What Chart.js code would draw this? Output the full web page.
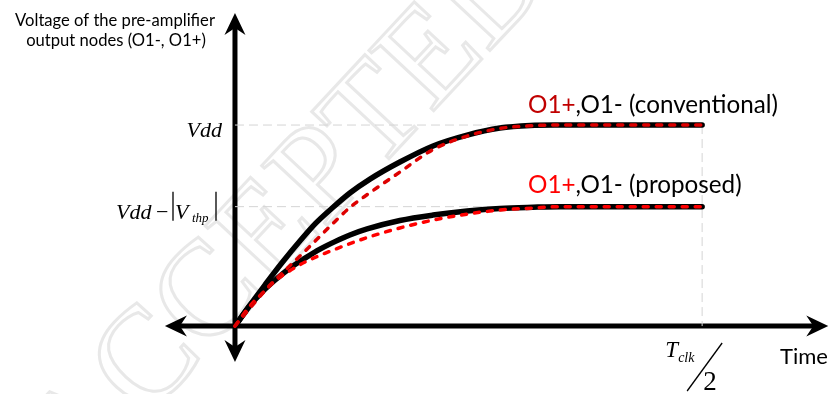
<!DOCTYPE html>
<html>
<head>
<meta charset="utf-8">
<script src="https://cdn.jsdelivr.net/npm/chart.js@4.4.0/dist/chart.umd.min.js"></script>
<style>
  html, body { margin: 0; padding: 0; background: #fff; }
  #wrap { position: relative; width: 832px; height: 394px; }
</style>
</head>
<body>
<div id="wrap"><canvas id="chart"></canvas></div>
<script>
/* ---------- data : time in units of Tclk/2, voltage in units of Vdd ---------- */
const VDD      = 1.0;
const VDD_VTHP = 0.594;          // Vdd - |Vthp|
const T_HALF   = 1.0;            // Tclk / 2

// conventional, solid black
const convSolidX = [0, 0.032, 0.064, 0.101, 0.139, 0.173, 0.208, 0.246, 0.289, 0.353, 0.424, 0.497, 0.567, 0.632, 0.685, 1.0];
const convSolidY = [0, 0.104, 0.204, 0.316, 0.423, 0.512, 0.587, 0.662, 0.731, 0.816, 0.896, 0.950, 0.985, 0.998, 1.0, 1.0];
// conventional, red dashed
const convDashX  = [0, 0.043, 0.075, 0.118, 0.161, 0.203, 0.246, 0.285, 0.353, 0.424, 0.497, 0.567, 0.632, 0.685, 1.0];
const convDashY  = [0, 0.119, 0.204, 0.301, 0.398, 0.495, 0.590, 0.657, 0.766, 0.878, 0.945, 0.983, 0.996, 1.0, 1.0];
// proposed, solid black
const propSolidX = [0, 0.032, 0.058, 0.086, 0.118, 0.150, 0.182, 0.214, 0.246, 0.283, 0.353, 0.424, 0.497, 0.567, 0.638, 0.696, 1.0];
const propSolidY = [0, 0.102, 0.169, 0.229, 0.289, 0.338, 0.383, 0.420, 0.453, 0.483, 0.525, 0.552, 0.572, 0.585, 0.591, 0.594, 0.594];
// proposed, red dashed
const propDashX  = [0, 0.032, 0.058, 0.086, 0.118, 0.154, 0.210, 0.283, 0.353, 0.424, 0.497, 0.567, 0.638, 0.696, 1.0];
const propDashY  = [0, 0.100, 0.162, 0.224, 0.276, 0.323, 0.378, 0.440, 0.488, 0.527, 0.557, 0.577, 0.587, 0.594, 0.594];

// axis extents (arrow tips)
const xAxisEnds = [-0.15, 1.27];
const yAxisEnds = [-0.179, 1.557];

const pts = (xs, ys) => xs.map((x, i) => ({ x, y: ys[i] }));

/* ---------- helpers ---------- */
function arrowHead(ctx, tx, ty, dx, dy) {
  const len = 22, half = 10.5, notch = 7;
  const px = -dy, py = dx;
  ctx.beginPath();
  ctx.moveTo(tx, ty);
  ctx.lineTo(tx - dx * len + px * half, ty - dy * len + py * half);
  ctx.lineTo(tx - dx * (len - notch), ty - dy * (len - notch));
  ctx.lineTo(tx - dx * len - px * half, ty - dy * len - py * half);
  ctx.closePath();
  ctx.fill();
}

function fitSize(ctx, text, family, width) {
  ctx.font = `20px ${family}`;
  return 20 * width / ctx.measureText(text).width;
}

function drawParts(ctx, parts, x, y, size, family) {
  ctx.font = `${size}px ${family}`;
  parts.forEach(([t, c]) => {
    ctx.fillStyle = c;
    ctx.fillText(t, x, y);
    x += ctx.measureText(t).width;
  });
}

const SANS  = 'Lato, "Open Sans", sans-serif';
const SERIF = '"Liberation Serif", "DejaVu Serif", serif';

/* ---------- plugins ---------- */
const watermark = {
  id: 'watermark',
  beforeDatasetsDraw(chart) {
    const ctx = chart.ctx;
    ctx.save();
    ctx.translate(78, 492);
    ctx.rotate(-0.82);
    ctx.font = `135px ${SERIF}`;
    ctx.strokeStyle = '#e8e8e8';
    ctx.lineWidth = 3;
    ctx.strokeText('ACCEPTED MANUSCRIPT', 0, 0);
    ctx.restore();
  }
};

const axesPlugin = {
  id: 'axes',
  beforeDatasetsDraw(chart) {
    const ctx = chart.ctx, xs = chart.scales.x, ys = chart.scales.y;
    const x0 = xs.getPixelForValue(0), y0 = ys.getPixelForValue(0);
    const xl = xs.getPixelForValue(xAxisEnds[0]), xr = xs.getPixelForValue(xAxisEnds[1]);
    const yb = ys.getPixelForValue(yAxisEnds[0]), yt = ys.getPixelForValue(yAxisEnds[1]);
    ctx.save();
    ctx.strokeStyle = '#000';
    ctx.fillStyle = '#000';
    ctx.lineWidth = 5;
    ctx.beginPath();
    ctx.moveTo(xl + 14, y0); ctx.lineTo(xr - 14, y0);
    ctx.moveTo(x0, yb - 14); ctx.lineTo(x0, yt + 14);
    ctx.stroke();
    arrowHead(ctx, xr, y0, 1, 0);
    arrowHead(ctx, xl, y0, -1, 0);
    arrowHead(ctx, x0, yt, 0, -1);
    arrowHead(ctx, x0, yb, 0, 1);
    ctx.restore();
  }
};

const labels = {
  id: 'labels',
  afterDraw(chart) {
    const ctx = chart.ctx, xs = chart.scales.x, ys = chart.scales.y;
    ctx.save();
    ctx.textBaseline = 'alphabetic';
    ctx.fillStyle = '#000';

    // y-axis title
    const t1 = 'Voltage of the pre-amplifier', t2 = 'output nodes (O1-, O1+)';
    const s1 = fitSize(ctx, t1, SANS, 200);
    ctx.font = `${s1}px ${SANS}`;
    ctx.textAlign = 'center';
    ctx.fillText(t1, 115, 26);
    ctx.fillText(t2, 116, 46);

    // Time
    ctx.textAlign = 'left';
    const st = fitSize(ctx, 'Time', SANS, 48);
    ctx.font = `${st}px ${SANS}`;
    ctx.fillText('Time', 780, 364);

    // curve labels
    const lc = [['O1+', '#c00000'], [',O1- (conventional)', '#000']];
    const sl = fitSize(ctx, 'O1+,O1- (conventional)', SANS, 250);
    drawParts(ctx, lc, 528, ys.getPixelForValue(VDD) - 12, sl, SANS);
    const lp = [['O1+', '#ff0000'], [',O1- (proposed)', '#000']];
    drawParts(ctx, lp, 528, ys.getPixelForValue(VDD_VTHP) - 14, sl, SANS);

    // Vdd tick label
    const x0 = xs.getPixelForValue(0);
    ctx.fillStyle = '#000';
    ctx.font = `italic 22px ${SERIF}`;
    ctx.textAlign = 'right';
    ctx.fillText('Vdd', x0 - 13, ys.getPixelForValue(VDD) + 12);

    // Vdd - |Vthp|
    const yb = ys.getPixelForValue(VDD_VTHP) + 12;
    ctx.textAlign = 'left';
    ctx.font = `italic 22px ${SERIF}`;
    ctx.fillText('Vdd', 116, yb);
    ctx.font = `22px ${SERIF}`;
    ctx.fillText('\u2212', 156, yb);
    ctx.font = `italic 22px ${SERIF}`;
    ctx.fillText('V', 175, yb);
    ctx.font = `italic 13px ${SERIF}`;
    ctx.fillText('thp', 192, yb + 3);
    ctx.lineWidth = 1.3;
    ctx.strokeStyle = '#000';
    ctx.beginPath();
    ctx.moveTo(173, yb - 27); ctx.lineTo(173, yb + 2);
    ctx.moveTo(216, yb - 27); ctx.lineTo(216, yb + 2);
    ctx.stroke();

    // Tclk / 2
    const xt = xs.getPixelForValue(T_HALF);
    ctx.font = `italic 23px ${SERIF}`;
    ctx.fillText('T', xt - 37, 357);
    ctx.font = `italic 14px ${SERIF}`;
    ctx.fillText('clk', xt - 24, 362);
    ctx.lineWidth = 1.3;
    ctx.beginPath();
    ctx.moveTo(xt + 20, 343); ctx.lineTo(xt - 15, 391);
    ctx.stroke();
    ctx.font = `27px ${SERIF}`;
    ctx.fillText('2', xt + 1, 390);
    ctx.restore();
  }
};

/* ---------- chart ---------- */
const guideStyle = { borderColor: '#d4d4d4', borderWidth: 1, borderDash: [9, 5], pointRadius: 0, fill: false, order: 10 };
const solidStyle = { borderColor: '#000', borderWidth: 5.5, pointRadius: 0, fill: false, cubicInterpolationMode: 'monotone', borderCapStyle: 'round', order: 5 };
const dashStyle  = { borderWidth: 3.5, borderDash: [5, 8], borderCapStyle: 'round', pointRadius: 0, fill: false, cubicInterpolationMode: 'monotone', order: 1 };

new Chart(document.getElementById('chart'), {
  type: 'line',
  data: {
    datasets: [
      { ...guideStyle, data: [{ x: 0, y: VDD }, { x: T_HALF, y: VDD }] },
      { ...guideStyle, data: [{ x: 0, y: VDD_VTHP }, { x: T_HALF, y: VDD_VTHP }] },
      { ...guideStyle, data: [{ x: T_HALF, y: VDD }, { x: T_HALF, y: 0 }] },
      { ...solidStyle, data: pts(convSolidX, convSolidY) },
      { ...solidStyle, data: pts(propSolidX, propSolidY) },
      { ...dashStyle, borderColor: '#dd0000', data: pts(convDashX, convDashY) },
      { ...dashStyle, borderColor: '#ff0000', data: pts(propDashX, propDashY) }
    ]
  },
  options: {
    responsive: true,
    maintainAspectRatio: false,
    animation: false,
    layout: { padding: 0 },
    plugins: { legend: { display: false }, tooltip: { enabled: false } },
    scales: {
      x: { type: 'linear', min: -0.503, max: 1.278, display: false },
      y: { type: 'linear', min: -0.338, max: 1.622, display: false }
    }
  },
  plugins: [watermark, axesPlugin, labels]
});
</script>
</body>
</html>
